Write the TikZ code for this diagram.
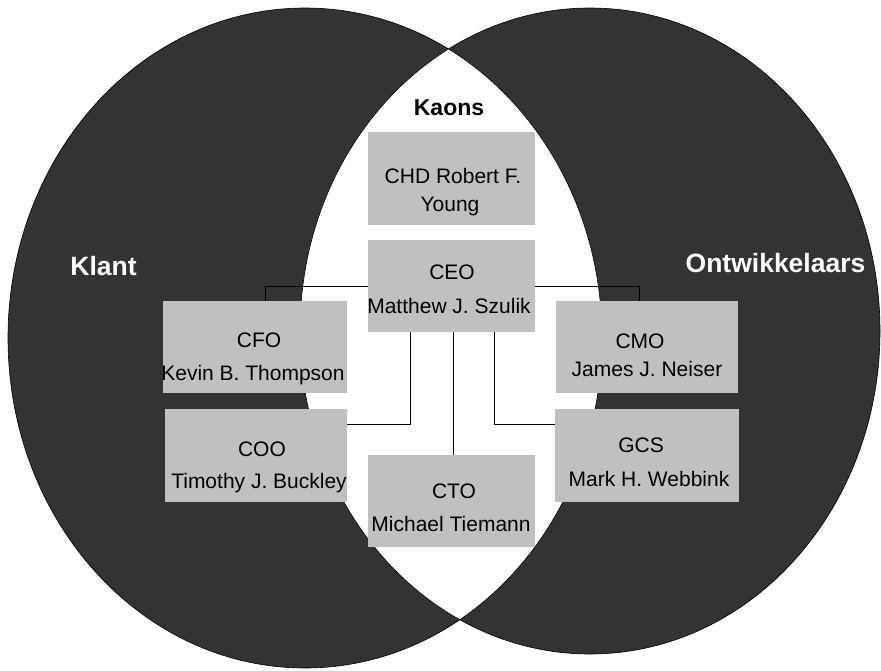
\documentclass[tikz,border=0pt]{standalone}
\usepackage{fontspec}
\setmainfont{Liberation Sans}
\usetikzlibrary{calc}
\definecolor{venn}{HTML}{333333}
\definecolor{boxgray}{HTML}{C0C0C0}
\tikzset{
  orgbox/.style={fill=boxgray, draw=none, inner sep=0pt},
  boxtext/.style={anchor=base, inner sep=0pt, font=\fontsize{21}{25}\selectfont, text=black},
  setlabel/.style={anchor=base, inner sep=0pt, font=\fontsize{26.5}{30}\selectfont\bfseries, text=white},
  link/.style={draw=black, line width=0.8pt},
  rim/.style={draw=black, line width=0.6pt}
}
\begin{document}
\begin{tikzpicture}[x=1pt, y=-1pt]
\useasboundingbox (0,0) rectangle (881,670);
\fill[white] (0,0) rectangle (881,670);
% Venn sets
\fill[venn] (305,338) ellipse [x radius=297pt, y radius=330pt];
\fill[venn] (590,331) ellipse [x radius=290pt, y radius=323pt];
\begin{scope}
  \clip (305,338) ellipse [x radius=297pt, y radius=330pt];
  \fill[white] (590,331) ellipse [x radius=290pt, y radius=323pt];
\end{scope}
\draw[rim] (305,338) ellipse [x radius=297pt, y radius=330pt];
\draw[rim] (590,331) ellipse [x radius=290pt, y radius=323pt];

% set labels
\node[setlabel] (klant) at (103.5,275) {Klant};
\node[setlabel] (ontw) at (775.5,272) {Ontwikkelaars};
\node[anchor=base, inner sep=0pt, font=\fontsize{23}{27}\selectfont\bfseries] (kaons) at (449,115) {Kaons};

% boxes
\node[orgbox, minimum width=167pt, minimum height=93pt] (chd) at (451.5,178.5) {};
\node[orgbox, minimum width=167pt, minimum height=92pt] (ceo) at (451.5,286) {};
\node[orgbox, minimum width=184pt, minimum height=92pt] (cfo) at (255,347) {};
\node[orgbox, minimum width=182pt, minimum height=92pt] (cmo) at (647,347) {};
\node[orgbox, minimum width=182pt, minimum height=93pt] (coo) at (256,455.5) {};
\node[orgbox, minimum width=184pt, minimum height=93pt] (gcs) at (647,455.5) {};
\node[orgbox, minimum width=167pt, minimum height=92pt] (cto) at (451.5,501) {};

% connectors
\coordinate (jl) at (265,0);
\coordinate (jr) at (639,0);
\coordinate (jc) at (453,0);
\coordinate (jcl) at (410,424);
\coordinate (jcr) at (494,424);
\draw[link] (ceo.west) -| (jl |- cfo.north);
\draw[link] (ceo.east) -| (jr |- cmo.north);
\draw[link] (jcl |- ceo.south) -- (jcl) -- (jcl -| coo.east);
\draw[link] (jcr |- ceo.south) -- (jcr) -- (jcr -| gcs.west);
\draw[link] (jc |- ceo.south) -- (jc |- cto.north);

% box texts
\node[boxtext] (chd1) at (453,183) {CHD Robert F.};
\node[boxtext] (chd2) at (450,211) {Young};
\node[boxtext] (ceo1) at (452,279) {CEO};
\node[boxtext] (ceo2) at (449,313) {Matthew J. Szulik};
\node[boxtext] (cfo1) at (259,347.5) {CFO};
\node[boxtext] (cfo2) at (253,380) {Kevin B. Thompson};
\node[boxtext] (cmo1) at (640,348) {CMO};
\node[boxtext] (cmo2) at (647,376.5) {James J. Neiser};
\node[boxtext] (coo1) at (262,456) {COO};
\node[boxtext] (coo2) at (259,488.5) {Timothy J. Buckley};
\node[boxtext] (gcs1) at (641,452) {GCS};
\node[boxtext] (gcs2) at (649,486) {Mark H. Webbink};
\node[boxtext] (cto1) at (454,498) {CTO};
\node[boxtext] (cto2) at (451,531) {Michael Tiemann};
\end{tikzpicture}
\end{document}
